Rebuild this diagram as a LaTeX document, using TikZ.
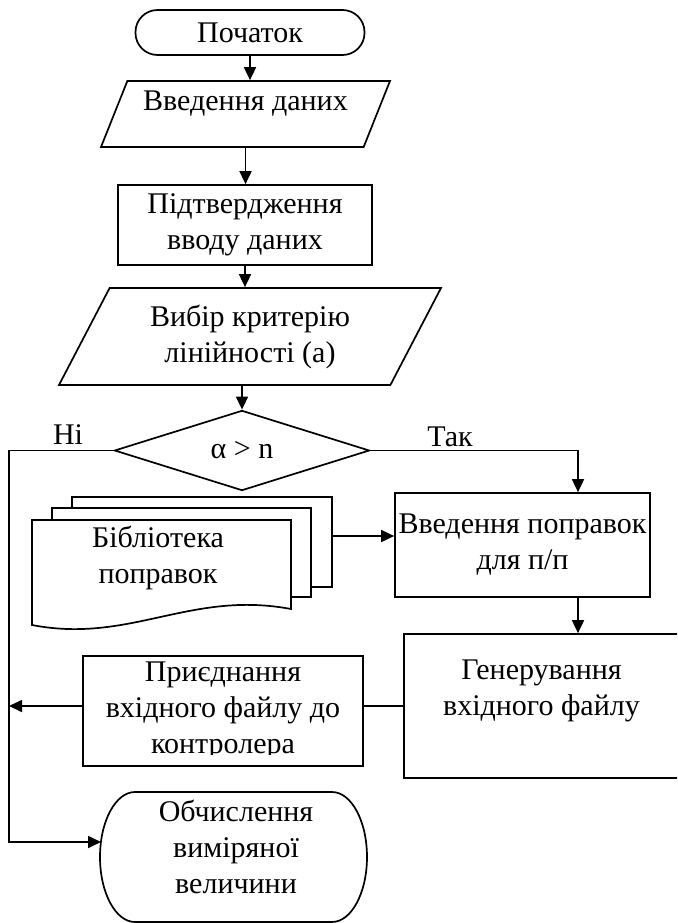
\documentclass[tikz,border=0pt]{standalone}
\usepackage{fontspec}
\setmainfont{Liberation Serif}
\usetikzlibrary{shapes.geometric,arrows.meta}

\tikzset{
  base/.style={draw, line width=1.7pt, inner sep=0pt, align=center},
  term/.style={base, rounded corners=22pt, minimum width=229, minimum height=45},
  io/.style={base, trapezium, trapezium stretches body},
  proc/.style={base, rectangle},
  line/.style={line width=1.7pt},
  arrow/.style={line, -{Triangle[length=13pt,width=12pt]}},
}

\begin{document}
\begin{tikzpicture}[x=1pt, y=-1pt, font=\fontsize{30}{36}\selectfont]
  \useasboundingbox (0,0) rectangle (677,923);
  \clip (0,0) rectangle (677,923);

  % main column
  \node[term] (start) at (250,32.5) {Початок};
  \node[io, trapezium left angle=48.7, trapezium right angle=131.3,
        minimum width=289, minimum height=66,
        text height=12pt, text depth=18pt] (in1) at (245.5,114) {Введення даних};
  \node[proc, minimum width=254, minimum height=80] (conf) at (245,225) {Підтвердження\\вводу даних};
  \node[io, trapezium left angle=51.6, trapezium right angle=128.4,
        minimum width=382, minimum height=97] (in2) at (250,336.5) {Вибір критерію\\лінійності (а)};
  \node[base, diamond, minimum width=255, minimum height=65] (cond) at (242,450.5) {α > n};
  \node (no) at (68,435) {Ні};
  \node (yes) at (450,437) {Так};

  % right branch
  \node[proc, minimum width=255, minimum height=104] (corr) at (522.5,545) {Введення поправок\\для п/п};
  \node[proc, minimum width=275, minimum height=144] (gen) at (541.5,706) {Генерування\\вхідного файлу\\\mbox{}};
  \node[proc, minimum width=280, minimum height=110] (join) at (223,711) {Приєднання\\вхідного файлу до\\контролера};
  \fill[white] (84,755) rectangle (362,764.5);

  % library (stacked documents)
  \filldraw[line, fill=white] (72,497) rectangle (332,587);
  \filldraw[line, fill=white] (52,508) rectangle (311,597);
  \filldraw[line, fill=white] (32,520) -- (291,520) -- (291,609)
    .. controls (190,590) and (130,644) .. (32,625) -- cycle;
  \node[align=center] (lib) at (158,558) {Бібліотека\\поправок};
  \coordinate (libE) at (332,536);

  % end block
  \draw[line] (135,792) -- (332,792)
    arc[start angle=-90, end angle=90, x radius=35, y radius=65] -- (135,922)
    arc[start angle=90, end angle=270, x radius=35, y radius=65] -- cycle;
  \node[align=center] (calc) at (236,847) {Обчислення\\виміряної\\величини};
  \coordinate (calcW) at (101,842);

  % connectors
  \coordinate (bus) at (9,0);
  \coordinate (tak) at (578,0);
  \draw[arrow] (start.south) -- (start.south |- in1.north);
  \draw[arrow] (in1.south) -- (in1.south |- conf.north);
  \draw[arrow] (conf.south) -- (conf.south |- in2.north);
  \draw[arrow] (in2.south -| cond.north) -- (cond.north);
  \draw[arrow] (cond.west) -- (cond.west -| bus) -- (bus |- calcW) -- (calcW);
  \draw[arrow] (cond.east) -- (cond.east -| tak) -- (tak |- corr.north);
  \draw[arrow] (tak |- corr.south) -- (tak |- gen.north);
  \draw[arrow] (libE) -- (libE -| corr.west);
  \draw[line] (gen.west) -- (gen.west -| join.east);
  \draw[arrow] (gen.west -| join.west) -- (gen.west -| bus);
\end{tikzpicture}
\end{document}
